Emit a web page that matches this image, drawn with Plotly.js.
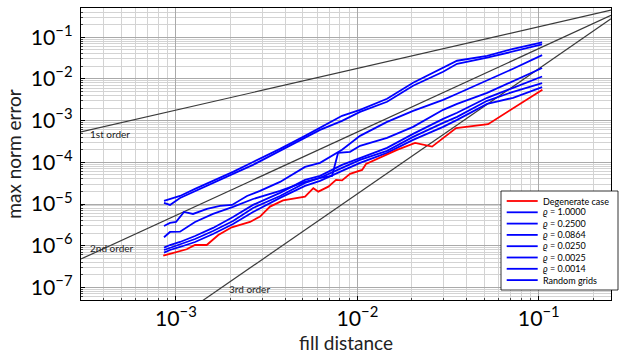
<!DOCTYPE html>
<html>
<head>
<meta charset="utf-8">
<script src="https://cdn.plot.ly/plotly-3.0.1.min.js"></script>
<style>html,body{margin:0;padding:0;background:#fff;}#chart{width:625px;height:354px;}</style>
</head>
<body>
<div id="chart"></div>
<script>
// ---- data ----
const seriesNames = ['Degenerate case', '<i>ϱ</i> = 1.0000', '<i>ϱ</i> = 0.2500', '<i>ϱ</i> = 0.0864',
                     '<i>ϱ</i> = 0.0250', '<i>ϱ</i> = 0.0025', '<i>ϱ</i> = 0.0014', 'Random grids'];

const degenX = [8.52e-4, 9.68e-4, 1.147e-3, 1.275e-3, 1.479e-3, 1.713e-3, 2.032e-3, 2.562e-3, 2.909e-3, 3.303e-3,
                3.896e-3, 5.150e-3, 5.722e-3, 6.098e-3, 6.922e-3, 7.633e-3, 8.237e-3, 9.119e-3, 1.062e-2, 1.117e-2,
                1.368e-2, 1.656e-2, 2.081e-2, 2.582e-2, 3.501e-2, 5.256e-2, 0.1047];
const degenY = [5.77e-7, 6.81e-7, 8.22e-7, 1.04e-6, 1.04e-6, 1.81e-6, 2.77e-6, 3.72e-6, 4.98e-6, 8.66e-6,
                1.22e-5, 1.50e-5, 2.39e-5, 1.98e-5, 2.61e-5, 3.78e-5, 3.68e-5, 5.27e-5, 6.58e-5, 9.16e-5,
                1.37e-4, 1.99e-4, 2.92e-4, 2.38e-4, 6.59e-4, 8.22e-4, 5.47e-3];

const gridX = [8.60e-4, 9.28e-4, 1.054e-3, 1.275e-3, 1.602e-3, 2.065e-3, 2.662e-3, 3.750e-3, 5.150e-3, 6.230e-3,
               8.237e-3, 1.035e-2, 1.458e-2, 2.029e-2, 2.970e-2, 3.546e-2, 5.190e-2, 7.219e-2, 0.1043];

const rho1Y = [1.19e-5, 1.32e-5, 1.56e-5, 2.30e-5, 3.58e-5, 5.89e-5, 1.02e-4, 2.10e-4, 4.31e-4, 6.70e-4,
               1.30e-3, 1.81e-3, 3.33e-3, 8.05e-3, 1.85e-2, 2.72e-2, 3.58e-2, 5.27e-2, 7.47e-2];
const rho025Y = [1.06e-5, 9.51e-6, 1.40e-5, 2.06e-5, 3.21e-5, 5.27e-5, 8.67e-5, 1.88e-4, 3.86e-4, 6.00e-4,
                 9.86e-4, 1.62e-3, 2.82e-3, 6.82e-3, 1.48e-2, 2.30e-2, 3.21e-2, 4.47e-2, 6.69e-2];

const rho0864X = [8.60e-4, 9.28e-4, 1.002e-3, 1.109e-3, 1.243e-3, 1.484e-3, 1.751e-3, 2.039e-3, 2.466e-3, 2.909e-3,
                  3.750e-3, 5.150e-3, 6.230e-3, 8.237e-3, 1.035e-2, 1.458e-2, 2.029e-2, 2.970e-2, 3.546e-2, 5.190e-2,
                  7.219e-2, 0.1043];
const rho0864Y = [2.98e-6, 3.52e-6, 3.72e-6, 6.46e-6, 5.78e-6, 7.62e-6, 9.00e-6, 9.51e-6, 1.56e-5, 2.06e-5,
                  3.39e-5, 7.76e-5, 9.68e-5, 1.99e-4, 4.31e-4, 9.33e-4, 1.71e-3, 3.15e-3, 4.39e-3, 9.00e-3,
                  1.75e-2, 3.72e-2];

const rho025bX = [8.60e-4, 9.28e-4, 1.054e-3, 1.275e-3, 1.602e-3, 2.065e-3, 2.662e-3, 3.750e-3, 5.150e-3, 6.230e-3,
                  7.256e-3, 7.830e-3, 9.119e-3, 1.035e-2, 1.458e-2, 2.029e-2, 2.970e-2, 3.546e-2, 5.190e-2, 7.219e-2,
                  0.1043];
const rho025bY = [1.60e-6, 2.14e-6, 2.17e-6, 3.72e-6, 5.78e-6, 8.51e-6, 1.32e-5, 2.06e-5, 3.39e-5, 4.23e-5,
                  4.72e-5, 1.68e-4, 1.78e-4, 2.48e-4, 3.86e-4, 7.08e-4, 1.81e-3, 2.52e-3, 4.63e-3, 9.00e-3,
                  1.82e-2];

const rho0025Y = [8.98e-7, 1.04e-6, 1.23e-6, 1.71e-6, 2.67e-6, 4.90e-6, 9.51e-6, 1.85e-5, 3.78e-5, 4.72e-5,
                  8.67e-5, 1.28e-4, 2.22e-4, 4.81e-4, 1.10e-3, 1.54e-3, 3.52e-3, 6.11e-3, 1.14e-2];
const rho0014Y = [7.91e-7, 8.83e-7, 1.10e-6, 1.45e-6, 2.26e-6, 3.93e-6, 8.05e-6, 1.56e-5, 3.21e-5, 4.23e-5,
                  7.35e-5, 1.14e-4, 1.88e-4, 4.07e-4, 8.83e-4, 1.23e-3, 2.98e-3, 4.90e-3, 7.93e-3];
const randomY = [6.81e-7, 7.91e-7, 9.33e-7, 1.23e-6, 1.91e-6, 3.33e-6, 6.46e-6, 1.40e-5, 2.72e-5, 3.58e-5,
                 6.22e-5, 9.68e-5, 1.68e-4, 3.45e-4, 7.08e-4, 1.04e-3, 2.52e-3, 3.52e-3, 6.35e-3];

// reference convergence-order lines (end points)
const orderX = [3e-4, 0.25];
const order1Y = [5.33e-4, 0.444];
const order2Y = [4.8e-7, 0.333];
const order3Y = [4.7e-10, 0.275];
const orderLabels = ['1st order', '2nd order', '3rd order'];

// ---- figure ----
const RED = '#ff0000', BLUE = '#0000ff', REF = '#3a3a3a';
const FONT = 'Lato, sans-serif';
const blueSets = [[gridX, rho1Y], [gridX, rho025Y], [rho0864X, rho0864Y], [rho025bX, rho025bY],
                  [gridX, rho0025Y], [gridX, rho0014Y], [gridX, randomY]];

const traces = [];
[order1Y, order2Y, order3Y].forEach(function (ys) {
  traces.push({x: orderX, y: ys, mode: 'lines', line: {color: REF, width: 1.2}, hoverinfo: 'skip', showlegend: false});
});
blueSets.forEach(function (s, i) {
  traces.push({x: s[0], y: s[1], mode: 'lines', name: seriesNames[i + 1], line: {color: BLUE, width: 1.8}, showlegend: false});
});
traces.push({x: degenX, y: degenY, mode: 'lines', name: seriesNames[0], line: {color: RED, width: 1.8}, showlegend: false});

// compact legend drawn like the reference
const plotL = 81, plotR = 611, plotT = 8, plotB = 300;
const W = plotR - plotL, H = plotB - plotT;
function px(x) { return (x - plotL) / W; }
function py(y) { return (plotB - y) / H; }

const shapes = [{type: 'rect', xref: 'paper', yref: 'paper', x0: px(501), x1: px(618), y0: py(290), y1: py(191),
                 fillcolor: '#ffffff', line: {color: '#000000', width: 0.8}, layer: 'above'}];
const annotations = [];
seriesNames.forEach(function (n, i) {
  const yy = 201 + i * 11.3;
  shapes.push({type: 'line', xref: 'paper', yref: 'paper', x0: px(506.7), x1: px(537.7), y0: py(yy), y1: py(yy),
               line: {color: i === 0 ? RED : BLUE, width: 1.8}, layer: 'above'});
  annotations.push({xref: 'paper', yref: 'paper', x: px(540.5), y: py(yy), xanchor: 'left', yanchor: 'middle',
                    text: n, showarrow: false, font: {family: FONT, size: 9, color: '#000'}});
});
const labelPos = [[88, 134], [88, 248], [227, 289]];
orderLabels.forEach(function (t, i) {
  annotations.push({xref: 'paper', yref: 'paper', x: px(labelPos[i][0]), y: py(labelPos[i][1]), xanchor: 'left',
                    yanchor: 'middle', text: t, showarrow: false, font: {family: FONT, size: 10, color: '#222'}});
});

const axisCommon = {
  type: 'log', dtick: 1, exponentformat: 'power', showexponent: 'all',
  showgrid: true, gridcolor: '#aaaaaa', gridwidth: 1,
  showline: true, linecolor: '#000', linewidth: 1, mirror: true,
  ticks: 'inside', ticklen: 4, tickcolor: '#000',
  zeroline: false,
  tickfont: {family: FONT, size: 17, color: '#000'},
  minor: {dtick: 'D1', showgrid: true, gridcolor: '#d3d3d3', gridwidth: 1, ticks: 'inside', ticklen: 2, tickcolor: '#444'}
};

const layout = {
  width: 625, height: 354,
  margin: {l: plotL, r: 625 - plotR, t: plotT, b: 354 - plotB},
  paper_bgcolor: '#fff', plot_bgcolor: '#fff',
  showlegend: false,
  xaxis: Object.assign({}, axisCommon, {
    range: [Math.log10(3e-4), Math.log10(0.25)],
    title: {text: 'fill distance', font: {family: FONT, size: 19, color: '#222'}, standoff: 6}
  }),
  yaxis: Object.assign({}, axisCommon, {
    range: [Math.log10(5e-8), Math.log10(0.5)],
    ticklabelstandoff: 4,
    title: {text: 'max norm error', font: {family: FONT, size: 19, color: '#222'}, standoff: 4}
  }),
  shapes: shapes,
  annotations: annotations
};

Plotly.newPlot('chart', traces, layout, {staticPlot: true, displayModeBar: false});
</script>
</body>
</html>
